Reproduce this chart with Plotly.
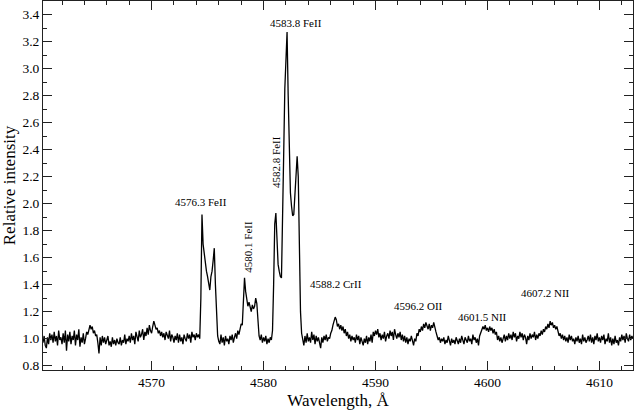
import plotly.graph_objects as go

# wavelength grid of the spectrum, Angstrom
wavelength = [
    4560.3, 4560.4, 4560.5, 4560.6, 4560.7, 4560.8, 4560.9, 4561.0,
    4561.1, 4561.2, 4561.3, 4561.4, 4561.5, 4561.6, 4561.7, 4561.8, 4561.9, 4562.0,
    4562.1, 4562.2, 4562.3, 4562.4, 4562.5, 4562.6, 4562.7, 4562.8, 4562.9, 4563.0,
    4563.1, 4563.2, 4563.3, 4563.4, 4563.5, 4563.6, 4563.7, 4563.8, 4563.9, 4564.0,
    4564.1, 4564.2, 4564.3, 4564.4, 4564.5, 4564.6, 4564.7, 4564.8, 4564.9, 4565.0,
    4565.1, 4565.2, 4565.3, 4565.4, 4565.5, 4565.6, 4565.7, 4565.8, 4565.9, 4566.0,
    4566.1, 4566.2, 4566.3, 4566.4, 4566.5, 4566.6, 4566.7, 4566.8, 4566.9, 4567.0,
    4567.1, 4567.2, 4567.3, 4567.4, 4567.5, 4567.6, 4567.7, 4567.8, 4567.9, 4568.0,
    4568.1, 4568.2, 4568.3, 4568.4, 4568.5, 4568.6, 4568.7, 4568.8, 4568.9, 4569.0,
    4569.1, 4569.2, 4569.3, 4569.4, 4569.5, 4569.6, 4569.7, 4569.8, 4569.9, 4570.0,
    4570.1, 4570.2, 4570.3, 4570.4, 4570.5, 4570.6, 4570.7, 4570.8, 4570.9, 4571.0,
    4571.1, 4571.2, 4571.3, 4571.4, 4571.5, 4571.6, 4571.7, 4571.8, 4571.9, 4572.0,
    4572.1, 4572.2, 4572.3, 4572.4, 4572.5, 4572.6, 4572.7, 4572.8, 4572.9, 4573.0,
    4573.1, 4573.2, 4573.3, 4573.4, 4573.5, 4573.6, 4573.7, 4573.8, 4573.9, 4574.0,
    4574.1, 4574.2, 4574.3, 4574.4, 4574.5, 4574.6, 4574.7, 4574.8, 4574.9, 4575.0,
    4575.1, 4575.2, 4575.3, 4575.4, 4575.5, 4575.6, 4575.7, 4575.8, 4575.9, 4576.0,
    4576.1, 4576.2, 4576.3, 4576.4, 4576.5, 4576.6, 4576.7, 4576.8, 4576.9, 4577.0,
    4577.1, 4577.2, 4577.3, 4577.4, 4577.5, 4577.6, 4577.7, 4577.8, 4577.9, 4578.0,
    4578.1, 4578.2, 4578.3, 4578.4, 4578.5, 4578.6, 4578.7, 4578.8, 4578.9, 4579.0,
    4579.1, 4579.2, 4579.3, 4579.4, 4579.5, 4579.6, 4579.7, 4579.8, 4579.9, 4580.0,
    4580.1, 4580.2, 4580.3, 4580.4, 4580.5, 4580.6, 4580.7, 4580.8, 4580.9, 4581.0,
    4581.1, 4581.2, 4581.3, 4581.4, 4581.5, 4581.6, 4581.7, 4581.8, 4581.9, 4582.0,
    4582.1, 4582.2, 4582.3, 4582.4, 4582.5, 4582.6, 4582.7, 4582.8, 4582.9, 4583.0,
    4583.1, 4583.2, 4583.3, 4583.4, 4583.5, 4583.6, 4583.7, 4583.8, 4583.9, 4584.0,
    4584.1, 4584.2, 4584.3, 4584.4, 4584.5, 4584.6, 4584.7, 4584.8, 4584.9, 4585.0,
    4585.1, 4585.2, 4585.3, 4585.4, 4585.5, 4585.6, 4585.7, 4585.8, 4585.9, 4586.0,
    4586.1, 4586.2, 4586.3, 4586.4, 4586.5, 4586.6, 4586.7, 4586.8, 4586.9, 4587.0,
    4587.1, 4587.2, 4587.3, 4587.4, 4587.5, 4587.6, 4587.7, 4587.8, 4587.9, 4588.0,
    4588.1, 4588.2, 4588.3, 4588.4, 4588.5, 4588.6, 4588.7, 4588.8, 4588.9, 4589.0,
    4589.1, 4589.2, 4589.3, 4589.4, 4589.5, 4589.6, 4589.7, 4589.8, 4589.9, 4590.0,
    4590.1, 4590.2, 4590.3, 4590.4, 4590.5, 4590.6, 4590.7, 4590.8, 4590.9, 4591.0,
    4591.1, 4591.2, 4591.3, 4591.4, 4591.5, 4591.6, 4591.7, 4591.8, 4591.9, 4592.0,
    4592.1, 4592.2, 4592.3, 4592.4, 4592.5, 4592.6, 4592.7, 4592.8, 4592.9, 4593.0,
    4593.1, 4593.2, 4593.3, 4593.4, 4593.5, 4593.6, 4593.7, 4593.8, 4593.9, 4594.0,
    4594.1, 4594.2, 4594.3, 4594.4, 4594.5, 4594.6, 4594.7, 4594.8, 4594.9, 4595.0,
    4595.1, 4595.2, 4595.3, 4595.4, 4595.5, 4595.6, 4595.7, 4595.8, 4595.9, 4596.0,
    4596.1, 4596.2, 4596.3, 4596.4, 4596.5, 4596.6, 4596.7, 4596.8, 4596.9, 4597.0,
    4597.1, 4597.2, 4597.3, 4597.4, 4597.5, 4597.6, 4597.7, 4597.8, 4597.9, 4598.0,
    4598.1, 4598.2, 4598.3, 4598.4, 4598.5, 4598.6, 4598.7, 4598.8, 4598.9, 4599.0,
    4599.1, 4599.2, 4599.3, 4599.4, 4599.5, 4599.6, 4599.7, 4599.8, 4599.9, 4600.0,
    4600.1, 4600.2, 4600.3, 4600.4, 4600.5, 4600.6, 4600.7, 4600.8, 4600.9, 4601.0,
    4601.1, 4601.2, 4601.3, 4601.4, 4601.5, 4601.6, 4601.7, 4601.8, 4601.9, 4602.0,
    4602.1, 4602.2, 4602.3, 4602.4, 4602.5, 4602.6, 4602.7, 4602.8, 4602.9, 4603.0,
    4603.1, 4603.2, 4603.3, 4603.4, 4603.5, 4603.6, 4603.7, 4603.8, 4603.9, 4604.0,
    4604.1, 4604.2, 4604.3, 4604.4, 4604.5, 4604.6, 4604.7, 4604.8, 4604.9, 4605.0,
    4605.1, 4605.2, 4605.3, 4605.4, 4605.5, 4605.6, 4605.7, 4605.8, 4605.9, 4606.0,
    4606.1, 4606.2, 4606.3, 4606.4, 4606.5, 4606.6, 4606.7, 4606.8, 4606.9, 4607.0,
    4607.1, 4607.2, 4607.3, 4607.4, 4607.5, 4607.6, 4607.7, 4607.8, 4607.9, 4608.0,
    4608.1, 4608.2, 4608.3, 4608.4, 4608.5, 4608.6, 4608.7, 4608.8, 4608.9, 4609.0,
    4609.1, 4609.2, 4609.3, 4609.4, 4609.5, 4609.6, 4609.7, 4609.8, 4609.9, 4610.0,
    4610.1, 4610.2, 4610.3, 4610.4, 4610.5, 4610.6, 4610.7, 4610.8, 4610.9, 4611.0,
    4611.1, 4611.2, 4611.3, 4611.4, 4611.5, 4611.6, 4611.7, 4611.8, 4611.9, 4612.0,
    4612.1, 4612.2, 4612.3, 4612.4, 4612.5, 4612.6, 4612.7, 4612.8, 4612.9, 4613.0,
]

# relative intensity
intensity = [
    0.97, 1.02, 0.95, 0.93, 1.01, 0.96, 1.04, 0.99,
    1.03, 0.97, 1.05, 0.98, 1.02, 0.95, 1.06, 0.99, 1.01, 0.96,
    1.04, 0.97, 1.06, 0.91, 1.03, 0.98, 1.05, 0.96, 1.02, 0.99,
    1.06, 0.95, 1.03, 0.99, 1.07, 0.94, 1.01, 0.97, 1.04, 0.96,
    1.00, 1.05, 1.03, 1.08, 1.10, 1.07, 1.09, 1.04, 1.06, 1.02,
    1.03, 0.97, 0.89, 1.01, 0.95, 1.02, 0.97, 1.01, 0.96, 0.99,
    1.02, 0.95, 0.98, 0.94, 1.01, 0.96, 0.99, 0.95, 1.00, 0.97,
    0.96, 1.01, 0.95, 0.99, 0.97, 1.03, 0.96, 1.00, 0.98, 1.02,
    0.97, 1.04, 0.99, 1.02, 0.96, 1.05, 1.00, 0.98, 1.06, 1.01,
    1.03, 1.07, 0.99, 1.05, 1.02, 1.08, 1.03, 1.10, 1.06, 1.04,
    1.09, 1.13, 1.10, 1.07, 1.08, 1.04, 1.06, 1.02, 1.05, 1.01,
    1.04, 0.99, 1.05, 1.02, 1.00, 1.06, 0.98, 1.03, 1.01, 0.97,
    1.02, 0.99, 1.04, 0.97, 1.03, 0.98, 1.01, 0.96, 1.03, 1.00,
    0.98, 1.04, 1.00, 1.03, 0.97, 1.05, 1.01, 1.03, 0.99, 1.04,
    1.01, 1.03, 1.00, 1.30, 1.92, 1.70, 1.63, 1.55, 1.50, 1.46,
    1.42, 1.36, 1.46, 1.50, 1.58, 1.67, 1.40, 1.15, 1.02, 0.98,
    0.96, 1.03, 0.97, 1.01, 0.95, 1.02, 0.98, 1.00, 0.96, 1.02,
    0.99, 1.03, 0.97, 1.01, 1.04, 1.00, 1.06, 1.03, 1.09, 1.11,
    1.10, 1.32, 1.45, 1.35, 1.29, 1.24, 1.27, 1.22, 1.20, 1.25,
    1.22, 1.24, 1.30, 1.26, 1.10, 1.02, 0.99, 1.03, 0.97, 1.01,
    0.98, 1.02, 0.96, 1.00, 0.97, 1.01, 0.99, 1.06, 1.40, 1.85,
    1.93, 1.68, 1.55, 1.50, 1.46, 1.45, 1.80, 2.37, 2.85, 3.15,
    3.27, 2.80, 2.37, 2.08, 1.98, 1.91, 1.92, 2.05, 2.22, 2.35,
    2.20, 1.70, 1.20, 1.04, 0.99, 0.95, 1.02, 0.97, 1.04, 0.98,
    1.01, 0.97, 1.05, 0.99, 1.03, 0.96, 1.02, 0.98, 1.01, 0.97,
    0.93, 1.01, 0.97, 1.02, 0.99, 1.03, 0.98, 1.01, 1.00, 1.04,
    1.06, 1.10, 1.13, 1.16, 1.14, 1.09, 1.11, 1.07, 1.10, 1.06,
    1.09, 1.04, 1.07, 1.02, 1.05, 1.00, 1.03, 0.98, 1.02, 0.99,
    1.01, 0.97, 1.03, 0.99, 1.02, 0.96, 1.01, 0.98, 0.95, 1.00,
    0.97, 1.02, 0.96, 1.01, 0.98, 1.03, 0.97, 1.05, 1.02, 1.06,
    1.03, 1.07, 1.01, 1.04, 0.99, 1.03, 1.00, 1.05, 0.98, 1.02,
    1.04, 1.00, 1.06, 1.02, 1.05, 0.99, 1.07, 1.03, 1.00, 1.04,
    1.01, 1.05, 0.99, 1.03, 0.98, 1.02, 0.97, 1.01, 0.96, 1.00,
    0.98, 1.02, 0.97, 0.95, 1.00, 0.98, 1.04, 1.02, 1.07, 1.05,
    1.09, 1.06, 1.11, 1.08, 1.12, 1.09, 1.07, 1.11, 1.06, 1.10,
    1.08, 1.12, 1.07, 1.05, 1.02, 0.99, 1.01, 0.97, 1.00, 0.98,
    1.01, 0.96, 0.99, 0.97, 1.02, 0.98, 0.95, 1.00, 0.97, 0.99,
    0.96, 1.01, 0.98, 0.96, 1.00, 0.97, 1.02, 0.98, 0.96, 1.01,
    0.99, 0.97, 1.02, 0.98, 1.00, 0.96, 1.03, 0.99, 1.01, 0.97,
    1.00, 0.95, 1.02, 1.04, 1.06, 1.09, 1.07, 1.10, 1.06, 1.08,
    1.05, 1.09, 1.06, 1.08, 1.04, 1.07, 1.03, 1.05, 0.99, 1.02,
    0.98, 1.01, 0.97, 1.00, 1.03, 0.98, 1.02, 0.99, 1.04, 1.00,
    1.03, 0.99, 1.05, 1.01, 1.04, 0.98, 1.02, 1.00, 1.05, 1.01,
    1.04, 0.99, 1.03, 1.01, 0.96, 1.02, 0.99, 1.04, 1.00, 1.03,
    1.01, 1.05, 0.99, 1.03, 1.00, 1.04, 1.02, 1.06, 1.03, 1.07,
    1.05, 1.09, 1.07, 1.11, 1.08, 1.13, 1.10, 1.12, 1.08, 1.10,
    1.07, 1.09, 1.05, 1.02, 1.04, 1.00, 1.03, 0.99, 1.02, 0.98,
    1.01, 0.97, 1.03, 0.99, 1.02, 0.98, 1.00, 0.96, 1.01, 0.98,
    1.02, 0.97, 1.00, 0.96, 1.03, 0.98, 1.01, 0.97, 0.99, 1.02,
    0.98, 1.03, 0.97, 1.01, 0.96, 1.02, 0.99, 1.04, 0.98, 1.01,
    0.97, 1.02, 0.99, 1.03, 0.96, 1.00, 0.98, 1.04, 0.97, 1.01,
    0.95, 1.00, 0.96, 1.02, 0.97, 0.99, 0.95, 1.01, 0.98, 1.03,
    0.99, 1.02, 0.97, 1.04, 1.00, 0.98, 1.03, 0.99, 1.02, 1.00,
]

# line identifications: label, anchor wavelength, anchor intensity, angle
line_labels = ["4576.3 FeII", "4580.1 FeII", "4582.8 FeII", "4583.8 FeII",
               "4588.2 CrII", "4596.2 OII", "4601.5 NII", "4607.2 NII"]
label_wave = [4574.45, 4578.6, 4581.12, 4582.9, 4586.51, 4593.82, 4599.56, 4605.14]
label_level = [2.009, 1.68, 2.309, 3.338, 1.402, 1.244, 1.162, 1.336]
label_angle = [0, -90, -90, 0, 0, 0, 0, 0]

FONT = "Liberation Serif"
TINTA = "#000"


def eixo(fig):
    comum = dict(
        showline=True, linecolor="#222", linewidth=1, mirror="ticks",
        ticks="inside", ticklen=9, tickcolor="#222", tickwidth=1,
        showgrid=False, zeroline=False,
        tickfont=dict(family=FONT, size=13.5, color=TINTA),
    )
    fig.update_xaxes(
        range=[4560.3, 4613.0], tick0=4570, dtick=10,
        minor=dict(ticks="inside", ticklen=4, dtick=2, tick0=4570, tickcolor="#222"),
        title=dict(text="Wavelength, Å", font=dict(family=FONT, size=17, color=TINTA), standoff=4),
        automargin=False, **comum,
    )
    fig.update_yaxes(
        range=[0.768, 3.5], tick0=0.8, dtick=0.2, tickformat=".1f",
        minor=dict(ticks="inside", ticklen=4, dtick=0.1, tick0=0.8, tickcolor="#222"),
        title=dict(text="Relative intensity", font=dict(family=FONT, size=17, color=TINTA), standoff=6),
        automargin=False, **comum,
    )
    return fig


fig = go.Figure()
fig.add_trace(go.Scatter(
    x=wavelength, y=intensity, mode="lines",
    line=dict(color="black", width=1.3), showlegend=False,
))

for texto, lam, nivel, ang in zip(line_labels, label_wave, label_level, label_angle):
    fig.add_annotation(
        x=lam, y=nivel, text=texto, showarrow=False, textangle=ang,
        font=dict(family=FONT, size=11, color=TINTA),
    )

fig.update_layout(
    width=634, height=410,
    margin=dict(l=43, r=1, t=1, b=40),
    font=dict(family=FONT, color=TINTA),
    paper_bgcolor="white", plot_bgcolor="white",
)
eixo(fig)

# the page body has a default 8px margin; drop it so the figure fills the window
fig.write_html(
    "out.html",
    config={"displayModeBar": False},
    post_script="document.body.style.margin='0';",
)
